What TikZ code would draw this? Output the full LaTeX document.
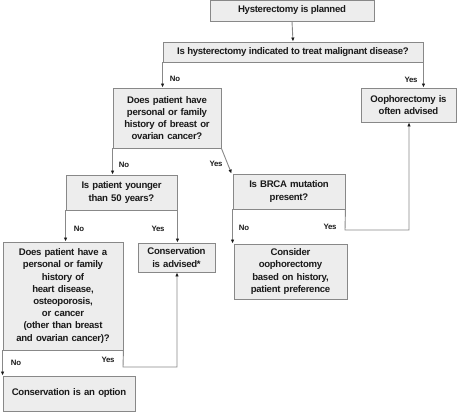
\documentclass[tikz,border=0pt]{standalone}
\usepackage{fontspec}
\setmainfont{Liberation Sans}[LetterSpace=-3]
\usetikzlibrary{arrows.meta}
\definecolor{boxfill}{HTML}{EDEDED}
\definecolor{boxline}{HTML}{888888}
\definecolor{txt}{HTML}{1A1A1A}
\tikzset{
  box/.style={draw=boxline, fill=boxfill, line width=0.9pt, align=center,
    inner sep=0pt, text=txt, font=\bfseries\fontsize{9.6}{12.2}\selectfont},
  conn/.style={draw=boxline, line width=0.9pt},
  arr/.style={conn, -{Latex[length=4pt,width=3.5pt,color=txt]}},
  lbl/.style={text=txt, font=\bfseries\fontsize{7.8}{9}\selectfont, inner sep=0pt},
}
\begin{document}
\begin{tikzpicture}[x=1pt,y=-1pt]
\useasboundingbox (0,0) rectangle (457,412);
\node[box, minimum width=164pt, minimum height=21pt] (n1) at (292,10.5) {Hysterectomy is planned};
\node[box, minimum width=260pt, minimum height=20pt] (n2) at (293,52) {Is hysterectomy indicated to treat malignant disease?};
\node[box, minimum width=108pt, minimum height=60pt, text width=100pt] (n3) at (167,118) {Does patient have\\personal or family\\history of breast or\\ovarian cancer?};
\node[box, minimum width=95pt, minimum height=34pt, text width=90pt] (n4) at (408.5,105) {Oophorectomy is\\often advised};
\node[box, minimum width=111pt, minimum height=35pt, text width=105pt] (n5) at (121.5,192.5) {Is patient younger\\than 50 years?};
\node[box, minimum width=112pt, minimum height=35pt, text width=105pt] (n6) at (289,191.5) {Is BRCA mutation\\present?};
\node[box, minimum width=77pt, minimum height=29pt, text width=72pt] (n7) at (176.5,257.5) {Conservation\\is advised*};
\node[box, minimum width=113pt, minimum height=55pt, text width=108pt] (n8) at (290.5,271.5) {Consider\\oophorectomy\\based on history,\\patient preference};
\node[box, minimum width=120pt, minimum height=108pt, text width=115pt] (n9) at (63,296) {Does patient have a\\personal or family\\history of\\heart disease,\\osteoporosis,\\or cancer\\(other than breast\\and ovarian cancer)?};
\node[box, minimum width=132pt, minimum height=35pt, text width=125pt] (n10) at (69,393.5) {Conservation is an option};

\coordinate (c1) at (345,230);
\coordinate (c2) at (409,230);
\coordinate (c3) at (123,367);
\coordinate (c4) at (177,367);

\draw[arr] (n1.south) -- (n2.north);
\draw[arr] (n2.south west) -- (n2.south west |- n3.north);
\draw[arr] (n2.south east) -- (n2.south east |- n4.north);
\draw[arr] (n3.south west) -- (n3.south west |- n5.north);
\draw[arr] (n3.south east) -- ([xshift=-1pt]n6.north west);
\draw[arr] (n6.south east) -- (c1) -- (c2) -- (c2 |- n4.south);
\draw[arr] (n6.south west) -- (n6.south west |- n8.north);
\draw[arr] (n5.south west) -- (n5.south west |- n9.north);
\draw[arr] (n5.south east) -- (n5.south east |- n7.north);
\draw[arr] (n9.south east) -- (c3) -- (c4) -- (c4 |- n7.south);
\draw[arr] (n9.south west) -- (n9.south west |- n10.north);

\node[lbl] (l1) at (175,79) {No};
\node[lbl] (l2) at (411,80) {Yes};
\node[lbl] (l3) at (124,165) {No};
\node[lbl] (l4) at (216,164) {Yes};
\node[lbl] (l5) at (244,228) {No};
\node[lbl] (l6) at (330,227) {Yes};
\node[lbl] (l7) at (79,229) {No};
\node[lbl] (l8) at (158,229) {Yes};
\node[lbl] (l9) at (108,360) {Yes};
\node[lbl] (l10) at (16,363) {No};
\end{tikzpicture}
\end{document}
